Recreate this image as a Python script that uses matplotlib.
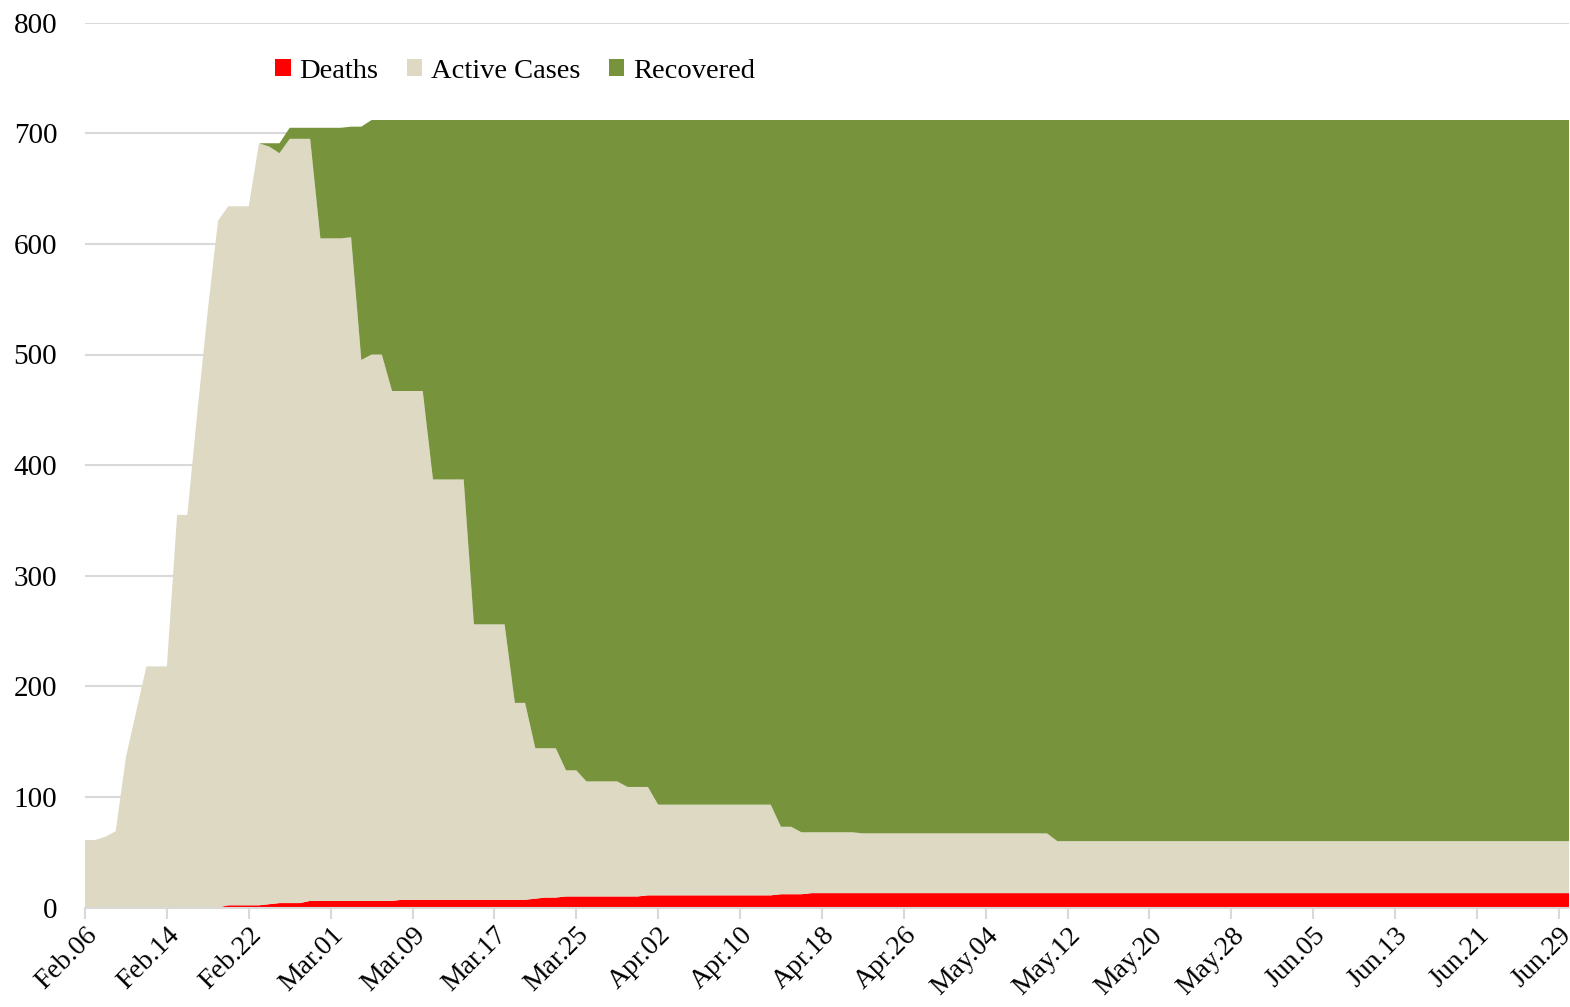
import matplotlib
matplotlib.use('Agg')
import matplotlib.pyplot as plt
import numpy as np
from matplotlib.patches import Patch

# ---- data (daily, Feb.06 .. Jun.30) ----
series_names = ['Deaths', 'Active Cases', 'Recovered']

deaths = [
    0, 0, 0, 0, 0, 0, 0, 0, 0, 0, 0, 0, 0, 0,
    2, 2, 2, 2, 3, 4, 4, 4,
    6, 6, 6, 6, 6, 6, 6, 6, 6,
    7, 7, 7, 7, 7, 7, 7, 7, 7, 7, 7, 7, 7,
    8, 9, 9,
    10, 10, 10, 10, 10, 10, 10, 10,
    11, 11, 11, 11, 11, 11, 11, 11, 11, 11, 11, 11, 11,
    12, 12, 12,
    13, 13, 13, 13, 13, 13, 13, 13, 13, 13, 13, 13, 13, 13, 13,
    13, 13, 13, 13, 13, 13, 13, 13, 13, 13, 13, 13, 13, 13, 13,
    13, 13, 13, 13, 13, 13, 13, 13, 13, 13, 13, 13, 13, 13, 13,
    13, 13, 13, 13, 13, 13, 13, 13, 13, 13, 13, 13, 13, 13, 13,
    13, 13, 13, 13, 13, 13, 13, 13, 13, 13, 13, 13, 13, 13, 13,
]

active = [
    61, 61, 64, 69, 136, 177, 218, 218, 218, 355, 355, 450, 540, 621,
    632, 632, 632, 689, 685, 678, 691, 691, 689,
    599, 599, 599, 600, 489, 494, 494,
    461, 460, 460, 460,
    380, 380, 380, 380,
    249, 249, 249, 249,
    178, 178, 136, 135, 135, 114, 114,
    104, 104, 104, 104, 99, 99, 98,
    82, 82, 82, 82, 82, 82, 82, 82, 82, 82, 82, 82,
    61, 61, 56, 55, 55, 55, 55, 55,
    54, 54, 54, 54, 54, 54, 54, 54, 54, 54, 54, 54, 54, 54, 54, 54, 54, 54, 54,
    47, 47, 47, 47, 47, 47, 47, 47, 47, 47, 47, 47, 47, 47, 47, 47, 47,
    47, 47, 47, 47, 47, 47, 47, 47, 47, 47, 47, 47, 47, 47, 47, 47, 47,
    47, 47, 47, 47, 47, 47, 47, 47, 47, 47, 47, 47, 47, 47, 47, 47, 47,
]

recovered = [
    0, 0, 0, 0, 0, 0, 0, 0, 0, 0, 0, 0, 0, 0, 0, 0, 0, 0,
    3, 9, 10, 10, 10,
    100, 100, 100, 100, 211, 212, 212,
    245, 245, 245, 245,
    325, 325, 325, 325,
    456, 456, 456, 456,
    527, 527, 568, 568, 568, 588, 588,
    598, 598, 598, 598, 603, 603, 603,
    619, 619, 619, 619, 619, 619, 619, 619, 619, 619, 619, 619,
    639, 639, 644, 644, 644, 644, 644, 644,
    645, 645, 645, 645, 645, 645, 645, 645, 645, 645, 645, 645, 645, 645, 645, 645, 645, 645, 645,
    652, 652, 652, 652, 652, 652, 652, 652, 652, 652, 652, 652, 652, 652, 652, 652, 652,
    652, 652, 652, 652, 652, 652, 652, 652, 652, 652, 652, 652, 652, 652, 652, 652, 652,
    652, 652, 652, 652, 652, 652, 652, 652, 652, 652, 652, 652, 652, 652, 652, 652, 652,
]

x_tick_labels = ['Feb.06', 'Feb.14', 'Feb.22', 'Mar.01', 'Mar.09', 'Mar.17',
                 'Mar.25', 'Apr.02', 'Apr.10', 'Apr.18', 'Apr.26', 'May.04',
                 'May.12', 'May.20', 'May.28', 'Jun.05', 'Jun.13', 'Jun.21',
                 'Jun.29']
y_ticks = [0, 100, 200, 300, 400, 500, 600, 700, 800]

colors = ['#FF0000', '#DDD9C3', '#77933C']

plt.rcParams['font.family'] = ['Liberation Serif', 'DejaVu Serif']

W, H = 1570, 1007
fig = plt.figure(figsize=(W / 100, H / 100), dpi=100)
ax = fig.add_axes([85 / W, 1 - 907.5 / H, (1569 - 85) / W, (907.5 - 22.7) / H])

x = np.arange(len(deaths))
ax.stackplot(x, deaths, active, recovered, colors=colors, linewidth=0,
             labels=series_names, zorder=1)

ax.set_xlim(0, len(deaths) - 1)
ax.set_ylim(0, 800)
ax.set_yticks(y_ticks)
ax.set_yticklabels([str(v) for v in y_ticks])
ax.yaxis.grid(True, color='#d9d9d9', linewidth=1.5)
ax.set_axisbelow(True)

for s in ['left', 'right', 'top']:
    ax.spines[s].set_visible(False)
ax.spines['bottom'].set_color('#d9d9d9')
ax.spines['bottom'].set_linewidth(1.5)
ax.spines['bottom'].set_zorder(3)

tick_pos = x[::8][:len(x_tick_labels)]
ax.set_xticks(tick_pos)
ax.set_xticklabels(x_tick_labels, rotation=45, ha='right', va='top',
                   rotation_mode='anchor')
ax.tick_params(axis='x', length=8, color='#d9d9d9', width=1.5, pad=3,
               labelsize=20, labelcolor='black')
ax.tick_params(axis='y', length=0, pad=20, labelsize=21, labelcolor='black')

handles = [Patch(facecolor=c, edgecolor='none') for c in colors]
fig.legend(handles, series_names, loc='center left',
           bbox_to_anchor=(275 / W, 1 - 71 / H), ncol=3, frameon=False,
           fontsize=20.5, handlelength=0.55, handleheight=0.55,
           handletextpad=0.3, columnspacing=1.0, borderpad=0,
           borderaxespad=0)

fig.savefig('out.png', dpi=100)
